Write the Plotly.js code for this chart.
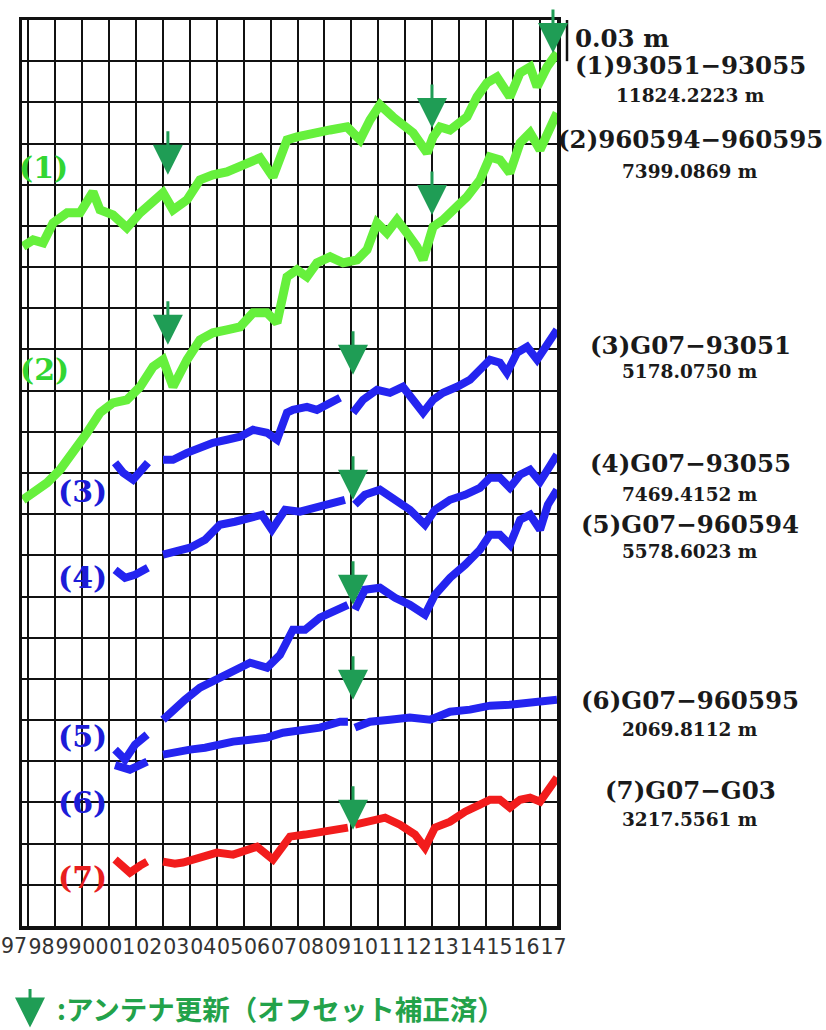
<!DOCTYPE html>
<html><head><meta charset="utf-8">
<script src="https://cdn.plot.ly/plotly-3.0.1.min.js"></script>
<style>html,body{margin:0;padding:0;background:#fff;}#chart{width:826px;height:1030px;}</style>
</head><body><div id="chart"></div>
<script>
// ---- x axis (years) ----
const tickYears = [1998.5,1999.5,2000.5,2001.5,2002.5,2003.5,2004.5,2005.5,2006.5,2007.5,2008.5,2009.5,2010.5,2011.5,2012.5,2013.5,2014.5,2015.5,2016.5,2017.5];
const tickText  = ['98','99','00','01','02','03','04','05','06','07','08','09','10','11','12','13','14','15','16','17'];
const firstTickText = '97';
const gridYears = [1998,1999,2000,2001,2002,2003,2004,2005,2006,2007,2008,2009,2010,2011,2012,2013,2014,2015,2016,2017];

// ---- series (values in cm, stacked with offsets as in the figure) ----
const t1 = [1997.81,1998.19,1998.56,1998.93,1999.45,1999.93,2000.41,2000.67,2001.15,2001.67,2002.16,2002.64,2003.01,2003.38,2003.90,2004.38,2004.86,2005.38,2005.87,2006.61,2007.09,2007.61,2007.98,2008.57,2009.21,2009.84,2010.32,2010.69,2011.06,2011.54,2012.06,2012.29,2012.81,2013.03,2013.29,2013.66,2014.29,2014.66,2015.03,2015.40,2015.88,2016.26,2016.63,2016.89,2017.26,2017.63];
const v1 = [49.50,49.98,49.77,51.22,51.95,51.95,53.48,52.17,51.80,50.86,51.95,52.90,53.41,52.17,52.90,54.35,54.72,54.94,55.30,55.96,54.57,57.27,57.48,57.78,57.99,58.21,57.27,58.72,59.81,58.94,58.21,57.78,56.32,57.48,58.21,57.99,58.94,60.40,61.42,61.85,60.40,62.15,62.58,61.13,62.58,63.60];

const t2 = [1997.81,1998.19,1998.71,1999.19,1999.67,2000.19,2000.67,2001.15,2001.67,2002.16,2002.64,2003.01,2003.38,2003.90,2004.38,2004.86,2005.38,2005.87,2006.35,2006.87,2007.24,2007.61,2007.98,2008.35,2008.72,2009.21,2009.69,2010.21,2010.58,2010.95,2011.32,2011.69,2012.06,2012.43,2012.66,2013.03,2013.40,2013.77,2014.29,2014.77,2015.14,2015.51,2015.88,2016.26,2016.63,2017.00,2017.37,2017.63];
const v2 = [31.05,31.56,32.29,33.24,34.47,35.93,37.39,38.11,38.33,39.28,40.74,41.25,39.28,41.25,42.70,43.21,43.43,43.65,44.67,44.67,43.94,47.29,47.80,47.29,48.31,48.75,48.31,48.53,49.26,51.22,50.49,51.44,50.49,49.47,48.53,50.93,51.44,52.17,53.12,54.35,56.03,55.81,54.86,57.05,57.78,56.54,57.99,59.23];

const t3 = [2001.23,2001.53,2001.90,2002.27,2002.45,2002.70,2003.01,2003.38,2003.90,2004.38,2004.86,2005.38,2005.87,2006.35,2006.87,2007.24,2007.61,2007.83,2008.35,2008.72,2009.21,2009.58,2009.80,2010.06,2010.43,2010.95,2011.43,2011.91,2012.29,2012.66,2013.03,2013.40,2013.92,2014.40,2014.77,2015.14,2015.51,2015.77,2016.14,2016.52,2016.89,2017.26,2017.63];
const v3 = [33.75,33.02,32.51,33.24,33.75,null,33.96,33.96,34.47,34.91,35.20,35.42,35.64,36.15,35.93,35.42,37.39,37.60,37.82,37.60,38.11,38.48,null,37.39,38.33,39.06,38.84,39.28,38.33,37.39,38.33,38.84,39.28,39.79,40.52,41.25,41.03,40.30,41.75,42.19,41.25,42.48,43.43];

const t4 = [2001.23,2001.60,2001.97,2002.45,2002.70,2003.01,2003.45,2004.01,2004.57,2005.12,2005.68,2006.24,2006.68,2007.05,2007.54,2008.09,2008.65,2009.21,2009.76,2009.90,2010.13,2010.50,2011.06,2011.62,2012.17,2012.73,2013.10,2013.66,2014.22,2014.77,2015.14,2015.51,2015.88,2016.26,2016.63,2017.00,2017.29,2017.63];
const v4 = [25.95,25.37,25.59,26.10,null,27.05,27.26,27.56,28.14,29.23,29.45,29.74,29.96,28.87,30.32,30.18,30.47,30.69,31.05,null,30.69,31.41,31.78,31.05,30.32,29.23,30.32,31.05,31.41,31.92,32.65,32.65,31.92,32.87,33.24,32.36,33.38,34.33];

const t5 = [2001.23,2001.60,2001.97,2002.42,2002.70,2003.01,2003.45,2003.83,2004.38,2005.01,2005.61,2006.24,2006.87,2007.35,2007.83,2008.28,2008.83,2009.39,2009.87,2009.95,2010.13,2010.50,2011.06,2011.62,2012.17,2012.73,2013.10,2013.66,2014.22,2014.77,2015.14,2015.51,2015.88,2016.26,2016.63,2017.00,2017.29,2017.63];
const v5 = [12.85,12.12,13.21,13.94,null,15.03,15.90,16.49,17.36,17.94,18.53,19.18,18.82,19.76,21.58,21.58,22.46,22.89,23.40,null,23.04,24.50,24.64,23.91,23.40,22.68,24.13,25.37,26.32,27.41,28.50,28.50,27.77,29.59,29.96,28.87,30.69,31.78];

const t6 = [2001.23,2001.78,2002.42,2002.70,2003.01,2003.45,2004.01,2004.57,2005.01,2005.61,2006.24,2006.87,2007.46,2008.09,2008.83,2009.58,2009.87,2009.95,2010.13,2010.69,2011.43,2012.17,2012.92,2013.66,2014.40,2015.14,2015.88,2016.63,2017.18,2017.63];
const v6 = [11.72,11.39,11.97,null,12.48,12.70,12.85,12.99,13.21,13.43,13.57,13.72,14.08,14.30,14.45,14.88,14.88,null,14.45,14.88,15.03,15.18,15.03,15.61,15.76,16.05,16.12,16.27,16.49,16.49];

const t7 = [2001.23,2001.49,2001.78,2002.16,2002.42,2002.70,2003.01,2003.45,2003.75,2004.38,2005.01,2005.61,2006.05,2006.50,2007.09,2007.72,2008.28,2008.83,2009.39,2009.87,2009.95,2010.13,2010.69,2011.25,2011.80,2012.36,2012.73,2013.10,2013.66,2014.22,2014.77,2015.14,2015.51,2015.88,2016.26,2016.63,2017.00,2017.29,2017.63];
const v7 = [4.84,4.40,3.89,4.40,4.69,null,4.69,4.54,4.62,5.05,5.35,5.20,5.56,5.78,4.84,6.51,6.66,6.87,7.02,7.17,null,7.38,7.60,7.89,7.38,6.66,5.71,7.17,7.60,8.33,8.84,9.20,9.20,8.62,9.20,9.35,9.06,9.93,10.81];

const seriesTags  = ['(1)','(2)','(3)','(4)','(5)','(6)','(7)'];
const pairNames   = ['(1)93051\u221293055','(2)960594\u2212960595','(3)G07\u221293051','(4)G07\u221293055','(5)G07\u2212960594','(6)G07\u2212960595','(7)G07\u2212G03'];
const baselines   = ['11824.2223 m','7399.0869 m','5178.0750 m','7469.4152 m','5578.6023 m','2069.8112 m','3217.5561 m'];
const scaleText   = '0.03 m';
const legendText  = ':アンテナ更新（オフセット補正済）';

// antenna replacement arrows (year, tip value in cm)
const arrowYears = [2003.19,2012.99,2017.48,2003.19,2012.99,2010.06,2010.06,2010.06,2010.06,2010.06];
const arrowTips  = [54.72,58.14,63.60,42.34,51.80,40.15,31.05,23.40,16.49,7.02];

// ---- styling ----
const lineColors = ['#66f03c','#66f03c','#2424f0','#2424f0','#2424f0','#2424f0','#f21c1c'];
const tagColors  = ['#33d633','#33d633','#1c1cd8','#1c1cd8','#1c1cd8','#1c1cd8','#e81e1e'];
const lineWidths = [9,9,8,8,8,8,8];
const arrowColor = '#1f9d55';
const T = [t1,t2,t3,t4,t5,t6,t7];
const V = [v1,v2,v3,v4,v5,v6,v7];

const traces = T.map((t,i)=>({
  x:t, y:V[i], type:'scatter', mode:'lines', connectgaps:false,
  line:{color:lineColors[i], width:lineWidths[i]}, hoverinfo:'skip', showlegend:false
}));

const tagX = [1998.59,1998.63,2000.04,2000.04,2000.04,2000.04,2000.04];
const tagY = [55.23,40.52,31.63,25.37,13.79,8.99,3.52];
const pairY = [62.68,57.27,42.32,33.67,29.23,16.41,9.86];
const distY = [60.49,54.96,40.37,31.41,27.26,14.30,7.75];

const ann = [];
seriesTags.forEach((s,i)=>ann.push({xref:'x',yref:'y',x:tagX[i],y:tagY[i],text:'<b>'+s+'</b>',showarrow:false,
  font:{family:'DejaVu Serif',size:30,color:tagColors[i]},xanchor:'center',yanchor:'middle'}));
pairNames.forEach((s,i)=>{
  ann.push({xref:'paper',yref:'y',x:1.249,y:pairY[i],text:'<b>'+s+'</b>',showarrow:false,
    font:{family:'DejaVu Serif',size:24.5,color:'#1a1a1a'},xanchor:'center',yanchor:'middle'});
  ann.push({xref:'paper',yref:'y',x:1.249,y:distY[i],text:'<b>'+baselines[i]+'</b>',showarrow:false,
    font:{family:'DejaVu Serif',size:18.5,color:'#1a1a1a'},xanchor:'center',yanchor:'middle'});
});
ann.push({xref:'paper',yref:'y',x:1.03,y:64.67,text:'<b>'+scaleText+'</b>',showarrow:false,
  font:{family:'DejaVu Serif',size:24.5,color:'#1a1a1a'},xanchor:'left',yanchor:'middle'});
arrowYears.forEach((x,i)=>ann.push({xref:'x',yref:'y',x:x,y:arrowTips[i],text:'',showarrow:true,
  ax:0,ay:-45,arrowhead:2,arrowsize:2,arrowwidth:3,arrowcolor:arrowColor}));
// first year label lies left of the frame
ann.push({xref:'paper',yref:'paper',x:-0.0145,y:-0.0218,text:firstTickText,showarrow:false,
  font:{family:'DejaVu Sans',size:20.5,color:'#333'},xanchor:'center',yanchor:'middle'});
// legend
ann.push({xref:'paper',yref:'paper',x:0.015,y:-0.1121,text:'',showarrow:true,ax:0,ay:-40,
  arrowhead:2,arrowsize:2,arrowwidth:3,arrowcolor:arrowColor});
ann.push({xref:'paper',yref:'paper',x:0.0617,y:-0.09,text:legendText,showarrow:false,
  font:{family:'Noto Sans CJK JP',size:27.5,color:'#23a24a',weight:'bold'},xanchor:'left',yanchor:'middle'});

const layout = {
  width:826, height:1030,
  margin:{l:22,r:269,t:20,b:104},
  paper_bgcolor:'#fff', plot_bgcolor:'#fff',
  showlegend:false,
  xaxis:{range:[1997.777,2017.629], tickmode:'array', tickvals:tickYears, ticktext:tickText, tickangle:0,
    showgrid:false, zeroline:false, ticks:'', showline:true, mirror:true, linecolor:'#111', linewidth:3.5,
    tickfont:{family:'DejaVu Sans',size:20.5,color:'#333'},
    minor:{tickmode:'array', tickvals:gridYears, showgrid:true, gridcolor:'#111', gridwidth:2, ticks:''}},
  yaxis:{range:[0,66], tick0:0, dtick:3, showticklabels:false, showgrid:true, gridcolor:'#111', gridwidth:2,
    zeroline:false, ticks:'', showline:true, mirror:true, linecolor:'#111', linewidth:3.5},
  shapes:[{type:'line', xref:'paper', yref:'y', x0:1.0187, x1:1.0187, y0:63, y1:66, line:{color:'#111', width:2.5}}],
  annotations:ann
};
Plotly.newPlot('chart', traces, layout, {staticPlot:true});
</script></body></html>
